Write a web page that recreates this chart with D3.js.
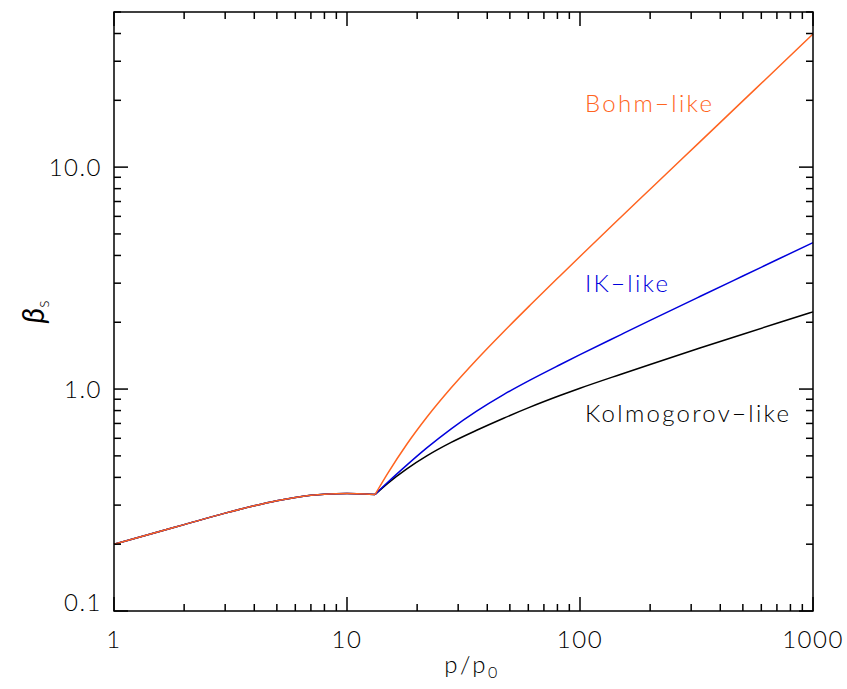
<!DOCTYPE html>
<html>
<head>
<meta charset="utf-8">
<script src="https://cdn.jsdelivr.net/npm/d3@7"></script>
<style>
  body { margin: 0; background: #fff; }
  text { font-family: "Lato", "Liberation Sans", sans-serif; font-weight: 300; }
</style>
</head>
<body>
<div id="chart"></div>
<script>
// shared low-momentum branch (all three models coincide up to the break)
var pLow = [1, 1.5, 2, 3, 4, 5, 6, 7, 8, 9, 10, 11, 12, 13.2];
var betaLow = [0.200, 0.225, 0.245, 0.276, 0.298, 0.314, 0.325, 0.332, 0.336, 0.3375, 0.338, 0.3378, 0.3368, 0.335];

// high-momentum branch, one array per model
var pHigh = [13.2, 15, 18, 22, 28, 36, 47, 61, 82, 100, 150, 200, 327, 500, 700, 1000];
var bohm = [0.335, 0.419, 0.561, 0.746, 1.013, 1.356, 1.813, 2.384, 3.233, 3.96, 5.96, 7.95, 13.0, 19.88, 27.83, 39.8];
var ik   = [0.335, 0.381, 0.453, 0.543, 0.662, 0.795, 0.944, 1.097, 1.287, 1.429, 1.760, 2.039, 2.613, 3.232, 3.824, 4.571];
var kolm = [0.335, 0.377, 0.436, 0.500, 0.575, 0.652, 0.739, 0.829, 0.935, 1.009, 1.167, 1.291, 1.530, 1.767, 1.978, 2.227];

var xTickVals = [1, 10, 100, 1000];
var xTickLabels = ['1', '10', '100', '1000'];
var yTickVals = [0.1, 1, 10];
var yTickLabels = ['0.1', '1.0', '10.0'];

var margin = {top: 12, right: 34, bottom: 78, left: 114};
var width = 847 - margin.left - margin.right,
    height = 689 - margin.top - margin.bottom;

var x = d3.scaleLog().domain([1, 1000]).range([0, width]);
var y = d3.scaleLog().domain([0.1, 50]).range([height, 0]);

var svg = d3.select('#chart').append('svg')
    .attr('width', 847)
    .attr('height', 689);

var g = svg.append('g')
    .attr('transform', 'translate(' + margin.left + ',' + margin.top + ')');

var line = d3.line()
    .curve(d3.curveMonotoneX)
    .x(function(d) { return x(d[0]); })
    .y(function(d) { return y(d[1]); });

function pairs(ps, vals) {
    return ps.map(function(p, i) { return [p, vals[i]]; });
}

var curves = [
    {vals: kolm, color: '#000000'},
    {vals: ik, color: '#0000dc'},
    {vals: bohm, color: '#ff6420'}
];

// low branch and high branch drawn separately so the corner at the break stays sharp
curves.forEach(function(c) {
    g.append('path')
        .attr('d', line(pairs(pLow, betaLow)))
        .style('fill', 'none')
        .style('stroke', c.color)
        .style('stroke-width', 1.5);
    g.append('path')
        .attr('d', line(pairs(pHigh, c.vals)))
        .style('fill', 'none')
        .style('stroke', c.color)
        .style('stroke-width', 1.5);
});

// frame
g.append('rect')
    .attr('width', width)
    .attr('height', height)
    .style('fill', 'none')
    .style('stroke', '#000')
    .style('stroke-width', 1.5);

// inward ticks on all four sides
var xTicks = x.ticks();
var yTicks = y.ticks();
function isMajor(v) { return Math.abs(Math.log10(v) - Math.round(Math.log10(v))) < 1e-6; }

var tk = g.append('g').style('stroke', '#000').style('stroke-width', 1.5);
xTicks.forEach(function(v) {
    var len = isMajor(v) ? 14 : 7;
    tk.append('line').attr('x1', x(v)).attr('x2', x(v)).attr('y1', height).attr('y2', height - len);
    tk.append('line').attr('x1', x(v)).attr('x2', x(v)).attr('y1', 0).attr('y2', len);
});
yTicks.forEach(function(v) {
    var len = isMajor(v) ? 14 : 7;
    tk.append('line').attr('y1', y(v)).attr('y2', y(v)).attr('x1', 0).attr('x2', len);
    tk.append('line').attr('y1', y(v)).attr('y2', y(v)).attr('x1', width).attr('x2', width - len);
});

// tick labels
g.selectAll('text.xl').data(xTickVals)
    .enter().append('text')
    .attr('x', function(d) { return x(d); })
    .attr('y', height + 37)
    .attr('text-anchor', 'middle')
    .style('font-size', '24px')
    .style('letter-spacing', '1.5px')
    .text(function(d, i) { return xTickLabels[i]; });

g.selectAll('text.yl').data(yTickVals)
    .enter().append('text')
    .attr('x', -12)
    .attr('y', function(d, i) { return i == 0 ? y(d) : y(d) + 9; })
    .attr('text-anchor', 'end')
    .style('font-size', '24px')
    .style('letter-spacing', '1.5px')
    .text(function(d, i) { return yTickLabels[i]; });

// axis titles
var xt = svg.append('text')
    .attr('x', 472)
    .attr('y', 673)
    .attr('text-anchor', 'middle')
    .style('font-size', '24px')
    .style('letter-spacing', '2.5px');
xt.append('tspan').text('p/p');
xt.append('tspan').attr('dy', 5).style('font-size', '16px').text('0');

var yt = svg.append('text')
    .attr('transform', 'translate(44,312) rotate(-90)')
    .attr('text-anchor', 'middle')
    .style('font-size', '30px')
    .style('font-weight', 400);
yt.append('tspan').style('font-style', 'italic').text('β');
yt.append('tspan').attr('dy', 5).style('font-size', '17px').style('font-weight', 300).text('s');

// curve labels
var labels = [
    {text: 'Bohm\u2212like', color: '#ff6420', x: 585, y: 112},
    {text: 'IK\u2212like', color: '#0000dc', x: 585, y: 292},
    {text: 'Kolmogorov\u2212like', color: '#000000', x: 585, y: 422}
];
svg.selectAll('text.lab').data(labels)
    .enter().append('text')
    .attr('x', function(d) { return d.x; })
    .attr('y', function(d) { return d.y; })
    .style('fill', function(d) { return d.color; })
    .style('font-size', '24px')
    .style('letter-spacing', '2.3px')
    .text(function(d) { return d.text; });
</script>
</body>
</html>
